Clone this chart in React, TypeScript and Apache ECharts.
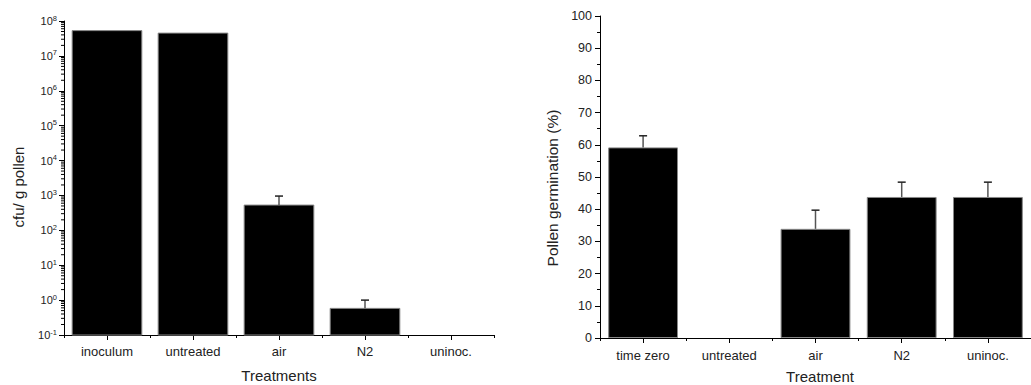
import React, { useEffect, useRef } from "react";
import * as echarts from "echarts";

const leftCats = ["inoculum", "untreated", "air", "N2", "uninoc."];
const leftValues: (number | null)[] = [5.3e7, 4.5e7, 530, 0.58, null];
const leftErrTop: (number | null)[] = [null, null, 960, 1.0, null];
const leftAxisMin = 0.1;
const leftAxisMax = 1e8;

const rightCats = ["time zero", "untreated", "air", "N2", "uninoc."];
const rightValues = [59.2, 0, 33.9, 43.8, 43.8];
const rightErrTop: (number | null)[] = [62.8, null, 39.7, 48.4, 48.4];

const decades = [-1, 0, 1, 2, 3, 4, 5, 6, 7];
const minorMultipliers = [2, 3, 4, 5, 6, 7, 8, 9];

const FONT = "'Liberation Sans', Arial, sans-serif";
const TXT = "#222";

export default function App() {
  const ref = useRef<HTMLDivElement>(null);
  useEffect(() => {
    if (!ref.current) return;
    const chart = echarts.init(ref.current, undefined, { renderer: "svg" });

    const minorVals: number[][] = [];
    decades.forEach((d) =>
      minorMultipliers.forEach((m) => minorVals.push([0, m * Math.pow(10, d)]))
    );

    const errData = (vals: (number | null)[], errs: (number | null)[]) =>
      errs
        .map((e, i) => (e == null || vals[i] == null ? null : [i, vals[i], e]))
        .filter((d) => d !== null);

    const errRender = (params: any, api: any) => {
      const b = api.coord([api.value(0), api.value(1)]);
      const t = api.coord([api.value(0), api.value(2)]);
      return {
        type: "group",
        children: [
          {
            type: "line",
            shape: { x1: b[0], y1: b[1], x2: b[0], y2: t[1] },
            style: { stroke: "#555", lineWidth: 1.5 },
          },
          {
            type: "line",
            shape: { x1: b[0] - 4, y1: t[1], x2: b[0] + 4, y2: t[1] },
            style: { stroke: "#222", lineWidth: 1.5 },
          },
        ],
      };
    };

    const catAxisMain = (gridIndex: number, data: string[], margin: number) => ({
      type: "category",
      gridIndex,
      data,
      axisLine: { show: true, lineStyle: { color: "#000", width: 1 } },
      axisTick: { show: true, alignWithLabel: true, length: 5, lineStyle: { color: "#000" } },
      axisLabel: { show: true, color: TXT, fontSize: 13, fontFamily: FONT, margin },
      splitLine: { show: false },
    });
    const catAxisMinor = (gridIndex: number, data: string[]) => ({
      type: "category",
      gridIndex,
      data,
      position: "bottom",
      axisLine: { show: false },
      axisTick: { show: true, length: 3, lineStyle: { color: "#000" } },
      axisLabel: { show: false },
      splitLine: { show: false },
    });

    const leftBarData = leftValues
      .map((v, i) => (v == null ? null : [i, v]))
      .filter((d) => d !== null);

    const option: any = {
      animation: false,
      backgroundColor: "#fff",
      grid: [
        { left: 64, top: 21, width: 430, height: 314 },
        { left: 600, top: 16, width: 440, height: 322 },
      ],
      xAxis: [
        catAxisMain(0, leftCats, 10),
        catAxisMinor(0, leftCats),
        catAxisMain(1, rightCats, 11),
        catAxisMinor(1, rightCats),
      ],
      yAxis: [
        {
          type: "log",
          gridIndex: 0,
          logBase: 10,
          min: leftAxisMin,
          max: leftAxisMax,
          interval: 1,
          axisLine: { show: true, lineStyle: { color: "#000" } },
          axisTick: { show: true, length: 5, lineStyle: { color: "#000" } },
          splitLine: { show: false },
          axisLabel: {
            color: TXT,
            fontFamily: FONT,
            margin: 7,
            formatter: (v: number) => {
              const e = Math.round(Math.log10(v));
              return `{b|10}{s|${e}}`;
            },
            rich: {
              b: { fontSize: 11, fontFamily: FONT, color: TXT, lineHeight: 14 },
              s: {
                fontSize: 7.5,
                fontFamily: FONT,
                color: TXT,
                lineHeight: 14,
                verticalAlign: "top",
                padding: [0, 0, 6, 0],
              },
            },
          },
        },
        {
          type: "value",
          gridIndex: 1,
          min: 0,
          max: 100,
          interval: 10,
          axisLine: { show: true, lineStyle: { color: "#000" } },
          axisTick: { show: true, length: 5, lineStyle: { color: "#000" } },
          minorTick: { show: true, splitNumber: 2, length: 3, lineStyle: { color: "#000" } },
          splitLine: { show: false },
          minorSplitLine: { show: false },
          axisLabel: { color: TXT, fontSize: 12.5, fontFamily: FONT, margin: 8 },
        },
      ],
      series: [
        {
          type: "custom",
          xAxisIndex: 0,
          yAxisIndex: 0,
          data: leftBarData,
          renderItem: (params: any, api: any) => {
            const top = api.coord([api.value(0), api.value(1)]);
            const base = api.coord([api.value(0), leftAxisMin]);
            const w = api.size([1, 0])[0] * 0.81;
            return {
              type: "rect",
              shape: { x: top[0] - w / 2, y: top[1], width: w, height: base[1] - top[1] },
              style: { fill: "#000", stroke: "#888", lineWidth: 1 },
            };
          },
          z: 2,
        },
        {
          type: "custom",
          xAxisIndex: 0,
          yAxisIndex: 0,
          data: errData(leftValues, leftErrTop),
          renderItem: errRender,
          z: 5,
        },
        {
          type: "custom",
          xAxisIndex: 0,
          yAxisIndex: 0,
          data: minorVals,
          renderItem: (params: any, api: any) => {
            const p = api.coord([0, api.value(1)]);
            const x0 = params.coordSys.x;
            return {
              type: "line",
              shape: { x1: x0 - 3, y1: p[1], x2: x0, y2: p[1] },
              style: { stroke: "#000", lineWidth: 1 },
            };
          },
          z: 5,
          silent: true,
        },
        {
          type: "bar",
          xAxisIndex: 2,
          yAxisIndex: 1,
          data: rightValues.map((v) =>
            v === 0 ? { value: v, itemStyle: { borderWidth: 0 } } : v
          ),
          barWidth: "81%",
          itemStyle: { color: "#000", borderColor: "#888", borderWidth: 1 },
        },
        {
          type: "custom",
          xAxisIndex: 2,
          yAxisIndex: 1,
          data: errData(rightValues, rightErrTop),
          renderItem: errRender,
          z: 5,
        },
      ],
      graphic: [
        {
          type: "text",
          x: 18,
          y: 187,
          rotation: Math.PI / 2,
          style: {
            text: "cfu/ g pollen",
            fontSize: 15,
            fontFamily: FONT,
            fill: TXT,
            align: "center",
            verticalAlign: "middle",
          },
        },
        {
          type: "text",
          x: 279,
          y: 375,
          style: {
            text: "Treatments",
            fontSize: 15,
            fontFamily: FONT,
            fill: TXT,
            align: "center",
            verticalAlign: "middle",
          },
        },
        {
          type: "text",
          x: 552,
          y: 188,
          rotation: Math.PI / 2,
          style: {
            text: "Pollen germination (%)",
            fontSize: 15.5,
            fontFamily: FONT,
            fill: TXT,
            align: "center",
            verticalAlign: "middle",
          },
        },
        {
          type: "text",
          x: 820,
          y: 376,
          style: {
            text: "Treatment",
            fontSize: 15,
            fontFamily: FONT,
            fill: TXT,
            align: "center",
            verticalAlign: "middle",
          },
        },
      ],
    };
    chart.setOption(option);
    return () => chart.dispose();
  }, []);

  return (
    <div
      ref={ref}
      style={{ position: "fixed", left: 0, top: 0, width: 1031, height: 385, background: "#fff" }}
    />
  );
}
